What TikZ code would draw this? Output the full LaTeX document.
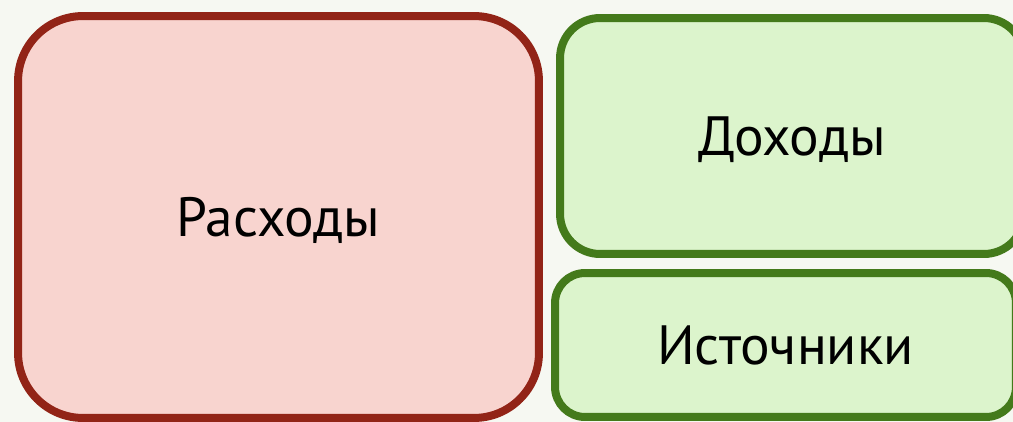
\documentclass[tikz,border=0pt]{standalone}
\usepackage{fontspec}
\setmainfont{PT Sans}
\usepackage{tikz}
\definecolor{bgcol}{HTML}{F6F8F2}
\definecolor{redline}{HTML}{922417}
\definecolor{redfill}{HTML}{F8D4CF}
\definecolor{greenline}{HTML}{447A1B}
\definecolor{greenfill}{HTML}{DCF4CC}

\begin{document}
\begin{tikzpicture}[x=0.02cm, y=-0.02cm,
            every node/.style = {shape=rectangle, align=center,
                                line width=0.16cm, inner sep=0pt,
                                text depth=0pt,
                                font=\fontsize{31.5}{38}\selectfont},
            costbox/.style = {draw=redline, fill=redfill,
                                rounded corners=1.3cm},
            incomebox/.style = {draw=greenline, fill=greenfill}]
    \useasboundingbox (0,0) rectangle (1013,422);
    \clip (0,0) rectangle (1013,422);
    \fill[bgcol] (0,0) rectangle (1013,422);
    \node[costbox, minimum width=10.42cm, minimum height=8.04cm]
        (rashody) at (278.5,217) {Расходы};
    \node[incomebox, rounded corners=0.8cm,
          minimum width=9.28cm, minimum height=4.72cm]
        (dohody) at (792,136) {Доходы};
    \node[incomebox, rounded corners=0.6cm,
          minimum width=9.22cm, minimum height=2.88cm]
        (istochniki) at (785.5,345) {Источники};
\end{tikzpicture}
\end{document}
